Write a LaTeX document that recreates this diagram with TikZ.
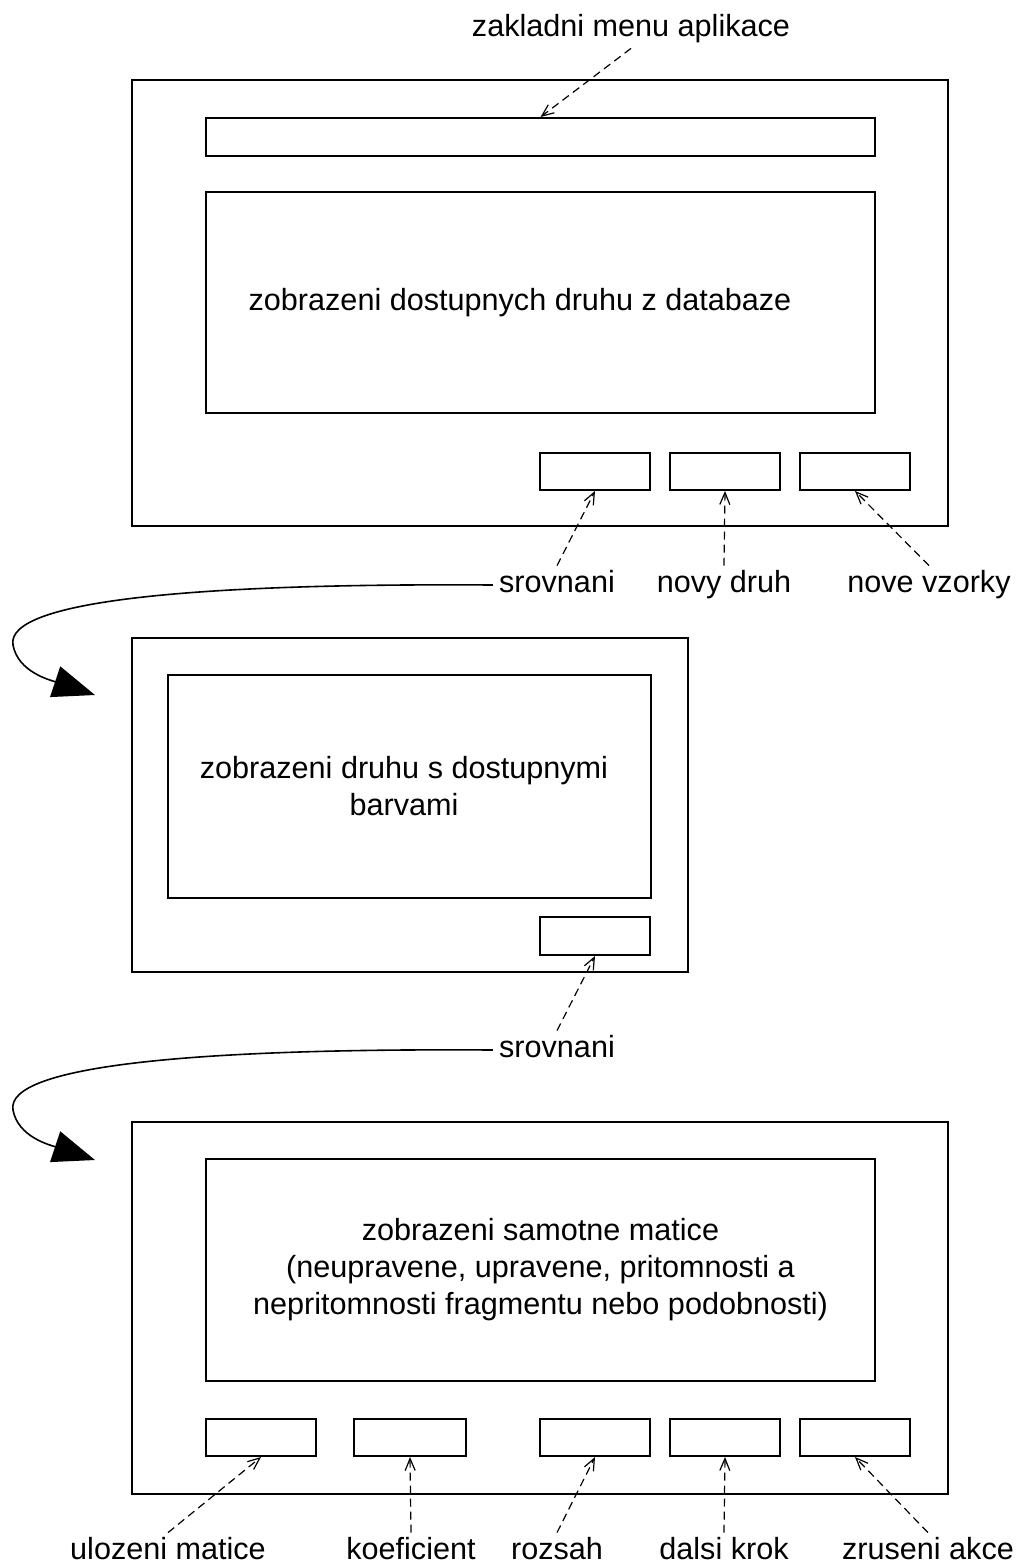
\documentclass[tikz,border=0pt]{standalone}
\usepackage{fontspec}
\setmainfont{Liberation Sans}
\usetikzlibrary{arrows.meta}

\begin{document}
\begin{tikzpicture}[x=0.5pt,y=-0.5pt,
  every node/.style={font=\fontsize{15.3}{18.5}\selectfont},
  panel/.style={draw,line width=1pt,inner sep=0pt},
  btn/.style={panel,minimum width=55pt,minimum height=18.5pt},
  lbl/.style={anchor=base,inner sep=3pt,text height=10pt,text depth=3pt},
  note/.style={dash pattern=on 4pt off 2.5pt,line width=0.6pt,-{Straight Barb[length=6pt,width=5pt]}},
  flow/.style={line width=0.8pt,-{Triangle[length=21pt,width=16pt]}}]
  \useasboundingbox (0,0) rectangle (1023,1564);

  % prvni okno
  \node[panel,minimum width=408pt,minimum height=223pt] (win1) at (540,303) {};
  \node[panel,minimum width=334.5pt,minimum height=19pt] (menu) at (540.5,137) {};
  \node[panel,minimum width=334.5pt,minimum height=110.5pt] (list1) at (540.5,302.5) {};
  \node (t1) at (520,302.5) {zobrazeni dostupnych druhu z databaze};
  \node[btn] (b1a) at (595,471.5) {};
  \node[btn] (b1b) at (725,471.5) {};
  \node[btn] (b1c) at (855,471.5) {};

  \node[lbl] (lmenu) at (631,36) {zakladni menu aplikace};
  \node[lbl] (sr1) at (557,592) {srovnani};
  \node[lbl] (nd) at (724,592) {novy druh};
  \node[lbl] (nv) at (929,592) {nove vzorky};

  \draw[note] (lmenu.south) -- (menu.north);
  \draw[note] (sr1.north) -- (b1a.south);
  \draw[note] (nd.north) -- (b1b.south);
  \draw[note] (nv.north) -- (b1c.south);

  % druhe okno
  \node[panel,minimum width=278pt,minimum height=167pt] (win2) at (410,805) {};
  \node[panel,minimum width=241.5pt,minimum height=111.5pt] (view2) at (409.5,786.5) {};
  \node[align=center] (t2) at (404,786.5) {zobrazeni druhu s dostupnymi\\barvami};
  \node[btn,minimum height=19pt] (b2) at (595,936) {};
  \node[lbl] (sr2) at (557,1057) {srovnani};
  \draw[note] (sr2.north) -- (b2.south);

  \coordinate (tip1) at (95,695);
  \coordinate (tip2) at (95,1160);
  \draw[flow] (sr1.west) .. controls (200,583) and (5,600) .. (13,645)
    .. controls (18,672) and (50,680) .. (tip1);
  \draw[flow] (sr2.west) .. controls (200,1048) and (5,1065) .. (13,1110)
    .. controls (18,1137) and (50,1145) .. (tip2);

  % treti okno
  \node[panel,minimum width=408pt,minimum height=186pt] (win3) at (540,1308) {};
  \node[panel,minimum width=334.5pt,minimum height=111pt,align=center] (view3) at (540.5,1270)
    {zobrazeni samotne matice\\(neupravene, upravene, pritomnosti a\\nepritomnosti fragmentu nebo podobnosti)};
  \node[btn] (b3a) at (261,1437.5) {};
  \node[btn,minimum width=56pt] (b3b) at (410,1437.5) {};
  \node[btn] (b3c) at (595,1437.5) {};
  \node[btn] (b3d) at (725,1437.5) {};
  \node[btn] (b3e) at (855,1437.5) {};

  \node[lbl] (um) at (168,1559) {ulozeni matice};
  \node[lbl] (ko) at (411,1559) {koeficient};
  \node[lbl] (ro) at (557,1559) {rozsah};
  \node[lbl] (dk) at (724,1559) {dalsi krok};
  \node[lbl] (za) at (928,1559) {zruseni akce};

  \draw[note] (um.north) -- (b3a.south);
  \draw[note] (ko.north) -- (b3b.south);
  \draw[note] (ro.north) -- (b3c.south);
  \draw[note] (dk.north) -- (b3d.south);
  \draw[note] (za.north) -- (b3e.south);
\end{tikzpicture}
\end{document}
